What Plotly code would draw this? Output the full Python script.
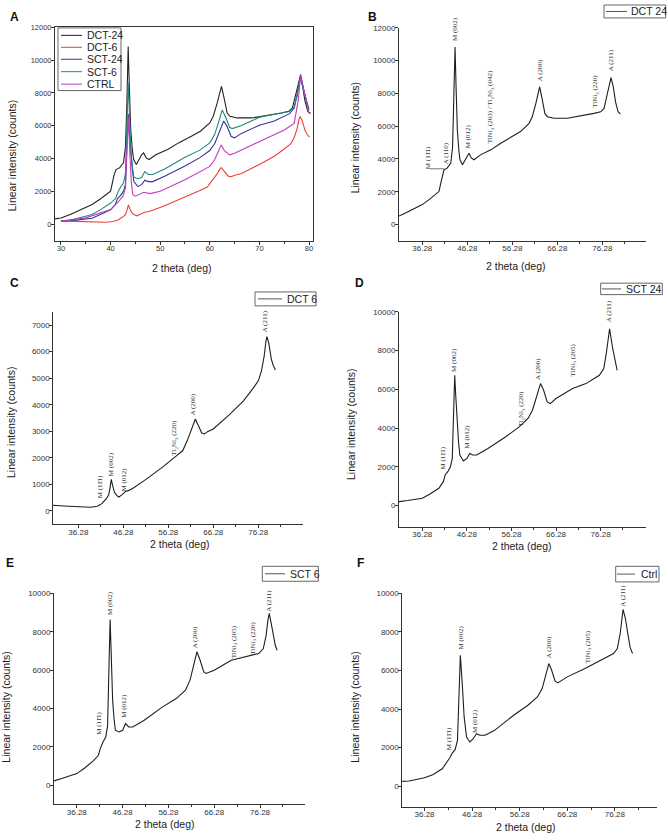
import plotly.graph_objects as go

# ---------------- data ----------------
dct24_x = [28.8, 30, 32, 34, 36.28, 38, 40, 40.3, 40.7, 41.1, 41.8, 42.6, 43.0, 43.3, 43.55, 43.8, 44.06, 44.4,
           44.65, 45.2, 45.8, 46.28, 46.65, 47.2, 47.76, 49.2, 51.5, 53.7, 56.28, 58.1, 60, 60.7, 61.5, 62.0,
           62.35, 62.95, 63.5, 64.06, 65.5, 68.5, 71.5, 74.4, 75.9, 76.65, 77.4, 78.0, 78.2, 78.7, 79.2, 79.76, 80.3]
dct24_y = [340, 390, 620, 880, 1215, 1560, 2024, 2430, 3000, 3340, 3440, 3745, 4700, 7500, 10830, 8200, 5770, 4500,
           3950, 3640, 3950, 4250, 4350, 4050, 3950, 4250, 4555, 4960, 5365, 5670, 6175, 6580, 7390, 8100,
           8400, 7590, 6780, 6580, 6480, 6480, 6620, 6780, 6880, 7085, 8000, 8800, 8970, 8400, 7490, 6880, 6750]

dct6_x = [30, 30.7, 33, 36.28, 39, 40.5, 41.5, 42.5, 43.0, 43.3, 43.6, 43.9, 44.3, 44.8, 45.3, 46.0, 46.8, 47.5,
          48.5, 51, 55, 58, 59.5, 60.5, 61.5, 62.0, 62.3, 62.7, 63.0, 63.7, 64.3, 65, 66.28, 70, 73, 75, 76.3,
          77, 77.6, 78.0, 78.2, 78.6, 79.2, 79.6, 80.1]
dct6_y = [200, 212, 187, 150, 137, 175, 275, 462, 600, 850, 1187, 950, 700, 587, 525, 612, 737, 775,
          862, 1150, 1650, 2062, 2275, 2650, 3087, 3350, 3462, 3300, 3212, 2937, 2900, 2987, 3087, 3650, 4150, 4587, 4900,
          5275, 5837, 6400, 6562, 6337, 5712, 5487, 5312]

sct24_x = [30, 31.05, 33, 36.28, 38, 40, 41, 41.4, 42, 42.6, 43.0, 43.3, 43.55, 43.8, 44.1, 44.4, 44.7, 45.5, 46.3,
           46.9, 47.6, 48.5, 51, 55, 58, 60, 61, 62, 62.5, 62.8, 63.5, 64.3, 65, 66.28, 70, 73, 76, 77, 77.6,
           78.0, 78.3, 79, 79.6, 80]
sct24_y = [200, 206, 260, 377, 600, 892, 1235, 1578, 1750, 2007, 2435, 4500, 6724, 5600, 4322, 3300, 2607, 2298, 2435,
           2693, 2607, 2607, 2950, 3550, 4065, 4494, 4923, 5695, 6150, 6295, 5952, 5352, 5266, 5523, 6038, 6295, 6724,
           7067, 7924, 8800, 9125, 8096, 7324, 6981]

sct6_x = [30, 31.3, 33, 36.28, 38, 40, 41, 41.4, 42, 42.6, 43.0, 43.3, 43.55, 43.8, 44.1, 44.4, 44.7, 45.5, 46.3,
          46.9, 47.6, 48.5, 51, 55, 58, 60, 61, 61.8, 62.5, 63.2, 64, 64.5, 66.28, 70, 73, 76, 77, 77.6, 78.0,
          78.3, 79, 79.6, 80]
sct6_y = [200, 226, 350, 609, 900, 1300, 1565, 1913, 2260, 2520, 3100, 6000, 8640, 6800, 4430, 3500, 2870, 2780, 2870,
          3220, 3040, 3040, 3390, 4090, 4520, 4960, 5480, 6260, 6960, 6520, 5910, 5830, 6000, 6520, 6700, 6870, 7130,
          7800, 8600, 8960, 8090, 7300, 7040]

ctrl_x = [30, 31.6, 33, 36.28, 38, 40, 41, 41.6, 42.1, 42.7, 43.2, 43.5, 43.8, 44.2, 44.6, 45.1, 45.8, 46.5, 47.2,
          47.9, 49, 51, 55, 58, 60, 61, 61.8, 62.4, 63, 63.7, 64.3, 65, 66.28, 70, 73, 76, 76.8, 77.4, 78.0, 78.5,
          79, 79.5, 80]
ctrl_y = [220, 240, 260, 433, 590, 900, 1250, 1470, 1715, 1890, 2375, 4450, 6790, 5320, 3590, 2550, 2290, 2460, 2720,
          2635, 2635, 2895, 3675, 4195, 4630, 5060, 5840, 6360, 6015, 5460, 5355, 5460, 5670, 6100, 6480, 6880, 7140,
          7920, 9170, 8700, 7920, 7190, 6880]

ctrlA_x = [30, 35, 40, 41.5, 42.5, 43.0, 43.3, 43.6, 43.9, 44.2, 44.5, 45, 46.7, 48, 50, 55, 60, 61, 61.8, 62.3,
           62.9, 64, 65, 70, 75, 77, 77.8, 78.3, 79, 80]
ctrlA_y = [200, 400, 900, 1350, 1720, 2200, 4500, 6500, 4200, 2500, 1815, 1715, 1956, 1875, 2017, 2723, 3530, 3950,
           4500, 4840, 4500, 4235, 4336, 5042, 5748, 6150, 7500, 9015, 8100, 6757]

series_A_names = ["DCT-24", "DCT-6", "SCT-24", "SCT-6", "CTRL"]
series_A_colors = ["#222222", "#e8413a", "#34349a", "#1f8a80", "#c23cc2"]

panel_letters = ["A", "B", "C", "D", "E", "F"]
panel_names = ["DCT 24", "DCT 6", "SCT 24", "SCT 6", "Ctrl"]

tickA_x = [30, 40, 50, 60, 70, 80]
tick_x = [36.28, 46.28, 56.28, 66.28, 76.28]
tick_x_labels = ["36.28", "46.28", "56.28", "66.28", "76.28"]

M111 = "M (11\u03041)"
TiNi3 = "TiNi<sub>3</sub>"
Ti2Ni3 = "Ti<sub>2</sub>Ni<sub>3</sub>"
labels_B = [(M111, 37.6, 3240), ("A (110)", 41.7, 3540), ("M (002)", 43.5, 11070), ("M (012)", 46.5, 4550),
            (TiNi3 + " (203) / " + Ti2Ni3 + " (042)", 51.5, 4860), ("A (200)", 62.35, 8600),
            (TiNi3 + " (220)", 74.65, 6980), ("A (211)", 78.1, 9210)]
labels_C = [(M111, 40.95, 400), ("M (002)", 43.4, 1250), ("M (012)", 46.4, 650), (Ti2Ni3 + " (220)", 57.5, 2025),
            ("A (200)", 61.8, 3525), ("A (211)", 77.76, 6650)]
labels_D = [(M111, 41.0, 1750), ("M (002)", 43.4, 6800), ("M (012)", 46.4, 2860), (Ti2Ni3 + " (220)", 58.5, 3970),
            ("A (200)", 62.2, 6370), (TiNi3 + " (205)", 70.1, 6540), ("A (211)", 78.2, 9370)]
labels_E = [(M111, 41.2, 2520), ("M (002)", 43.55, 8780), ("M (012)", 46.7, 3390), ("A (200)", 62.1, 7040),
            (TiNi3 + " (205)", 70.5, 6520), (TiNi3 + " (220)", 74.8, 6700), ("A (211)", 78.3, 8960)]
labels_F = [(M111, 41.6, 1770), ("M (002)", 43.85, 6970), ("M (012)", 47.0, 2630), ("A (200)", 62.4, 6530),
            (TiNi3 + " (205)", 70.5, 6270), ("A (211)", 78.05, 9220)]

# ---------------- layout geometry (pixels) ----------------
W, H = 668, 840


def px(x):
    return x / W


def py(y):
    return 1 - y / H


panels = {
    # name: (x px left,right), (y px top,bottom), xrange, yrange, ytick step, tick font
    "A": ((55, 313), (23.3, 238), [28.8, 80.8], [-1000, 12000], 2000, 7.5),
    "B": ((399, 645.7), (24, 238), [31.1, 85.9], [-1000, 12000], 2000, 8),
    "C": ((53.3, 303.3), (309.3, 522.7), [30.7, 86.3], [-500, 7500], 1000, 8),
    "D": ((399, 645.7), (309.3, 525), [31.05, 86.4], [-1080, 10000], 2000, 8),
    "E": ((54, 305), (592.3, 804.3), [31.3, 86.1], [-1000, 10000], 2000, 8),
    "F": ((402.3, 657.3), (592.3, 806.7), [31.6, 85.2], [-1080, 10000], 2000, 8),
}
# axis title positions (px): ytitle (x, y), xtitle (x, y)
title_pos = {
    "A": ((12, 153), (182, 265)),
    "B": ((355, 135), (516, 263)),
    "C": ((11, 421), (180, 543)),
    "D": ((351, 422), (522, 545)),
    "E": ((6, 707), (165, 824)),
    "F": ((355, 707), (526, 827)),
}
# legends: box (x0, y0, x1, y1), line x0, x1, text x, entry y centres
legend_geo = {
    "A": ((58, 24, 121, 87), 61, 82, 85, [31.5, 43.5, 55.5, 68, 80.5]),
    "B": ((604, 1, 665.7, 14), 606, 627, 629, [7.5]),
    "C": ((255, 289.3, 316, 303.3), 258, 282, 285, [296.3]),
    "D": ((600.7, 280.5, 662.3, 292), 602, 621, 624, [286.3]),
    "E": ((262.3, 565, 318.3, 580), 265, 285, 288, [572.5]),
    "F": ((615.7, 565, 659, 580.7), 617, 635, 639, [572.8]),
}
letter_pos = {"A": (8, 13), "B": (366, 13), "C": (8, 280), "D": (353, 280), "E": (4, 562), "F": (355, 562)}

FONT = "Liberation Sans, Arial, sans-serif"
SERIF = "Liberation Serif, Times New Roman, serif"
AX = "#333333"

fig = go.Figure()

# Panel A traces
A_data = [(dct24_x, dct24_y), (dct6_x, dct6_y), (sct24_x, sct24_y), (sct6_x, sct6_y), (ctrlA_x, ctrlA_y)]
for (xs, ys), nm, col in zip(A_data, series_A_names, series_A_colors):
    fig.add_trace(go.Scatter(x=xs, y=ys, mode="lines", name=nm, line=dict(color=col, width=1.1),
                             xaxis="x", yaxis="y", showlegend=False))

single = [("B", dct24_x, dct24_y), ("C", dct6_x, dct6_y), ("D", sct24_x, sct24_y),
          ("E", sct6_x, sct6_y), ("F", ctrl_x, ctrl_y)]
for i, ((p, xs, ys), nm) in enumerate(zip(single, panel_names)):
    k = i + 2
    fig.add_trace(go.Scatter(x=xs, y=ys, mode="lines", name=nm, line=dict(color="#1e1e1e", width=1.1),
                             xaxis=f"x{k}", yaxis=f"y{k}", showlegend=False))

layout = dict(width=W, height=H, margin=dict(l=0, r=0, t=0, b=0), paper_bgcolor="white",
              plot_bgcolor="white", font=dict(family=FONT, size=9, color="#222"), showlegend=False)

annotations = []
shapes = []

for idx, p in enumerate(panel_letters):
    k = idx + 1
    xs = "" if k == 1 else str(k)
    (xl, xr_), (yt, yb), xr, yr, ydt, tf = panels[p]
    if p == "A":
        xt = dict(tickmode="array", tickvals=tickA_x, minor=dict(tickmode="array", tickvals=[35, 45, 55, 65, 75],
                  ticks="outside", ticklen=2, tickcolor=AX))
        mirror = True
    else:
        xt = dict(tickmode="array", tickvals=tick_x, ticktext=tick_x_labels,
                  minor=dict(tickmode="array", tickvals=[41.28, 51.28, 61.28, 71.28, 81.28],
                             ticks="outside", ticklen=2, tickcolor=AX))
        mirror = False
    layout["xaxis" + xs] = dict(domain=[px(xl), px(xr_)], range=xr, anchor="y" + xs, showgrid=False, zeroline=False,
                                showline=True, linecolor=AX, linewidth=1, mirror=mirror,
                                ticks="outside", ticklen=3, tickcolor=AX, ticklabelstandoff=-3,
                                tickfont=dict(size=tf, color="#333"), **xt)
    layout["yaxis" + xs] = dict(domain=[py(yb), py(yt)], range=yr, anchor="x" + xs, showgrid=False, zeroline=False,
                                showline=True, linecolor=AX, linewidth=1, mirror=mirror,
                                ticks="outside", ticklen=3, tickcolor=AX, tick0=0, dtick=ydt, tickformat="d",
                                ticklabelstandoff=-2,
                                tickfont=dict(size=tf, color="#333"))
    # axis titles
    (ytx, yty), (xtx, xty) = title_pos[p]
    annotations.append(dict(text="Linear intensity (counts)", x=px(ytx), y=py(yty), xref="paper", yref="paper",
                            textangle=-90, xanchor="center", yanchor="middle", showarrow=False,
                            font=dict(size=10.5, family=FONT, color="#222")))
    annotations.append(dict(text="2 theta (deg)", x=px(xtx), y=py(xty), xref="paper", yref="paper",
                            xanchor="center", yanchor="middle", showarrow=False,
                            font=dict(size=10.5, family=FONT, color="#222")))
    # panel letter
    lx, ly = letter_pos[p]
    annotations.append(dict(text="<b>%s</b>" % p, x=px(lx), y=py(ly), xref="paper", yref="paper",
                            xanchor="left", yanchor="middle", showarrow=False,
                            font=dict(size=12, family=FONT, color="#111")))
    # legend (drawn as box + sample lines + text)
    (bx0, by0, bx1, by1), lx0, lx1, tx, ycs = legend_geo[p]
    shapes.append(dict(type="rect", xref="paper", yref="paper", x0=px(bx0), x1=px(bx1), y0=py(by1), y1=py(by0),
                       line=dict(color="#666", width=1), fillcolor="white", layer="above"))
    if p == "A":
        names, cols, fsz = series_A_names, series_A_colors, 10.5
    else:
        names, cols, fsz = [panel_names[idx - 1]], ["#555555"], 10.5
    for nm, col, yc in zip(names, cols, ycs):
        shapes.append(dict(type="line", xref="paper", yref="paper", x0=px(lx0), x1=px(lx1), y0=py(yc), y1=py(yc),
                           line=dict(color=col, width=1), layer="above"))
        annotations.append(dict(text=nm, x=px(tx), y=py(yc), xref="paper", yref="paper", xanchor="left",
                                yanchor="middle", showarrow=False, font=dict(size=fsz, family=FONT, color="#222")))

for k, labs in zip([2, 3, 4, 5, 6], [labels_B, labels_C, labels_D, labels_E, labels_F]):
    for txt, x, y in labs:
        annotations.append(dict(text=txt, x=x, y=y, xref=f"x{k}", yref=f"y{k}", textangle=-90,
                                xanchor="center", yanchor="bottom", showarrow=False,
                                font=dict(size=7, family=SERIF, color="#333")))

# small pointer line from M(11-1) label to the shoulder in panel B
shapes.append(dict(type="line", xref="x2", yref="y2", x0=38.0, x1=41.2, y0=3400, y1=3400,
                   line=dict(color="#555", width=0.8)))

layout["annotations"] = annotations
layout["shapes"] = shapes

fig.update_layout(**layout)
# remove the browser's default 8px page margin so the 668x840 figure fills the window exactly
fig.write_html("out.html", config={"displayModeBar": False},
               post_script="document.body.style.margin='0';document.body.style.overflow='hidden';")
